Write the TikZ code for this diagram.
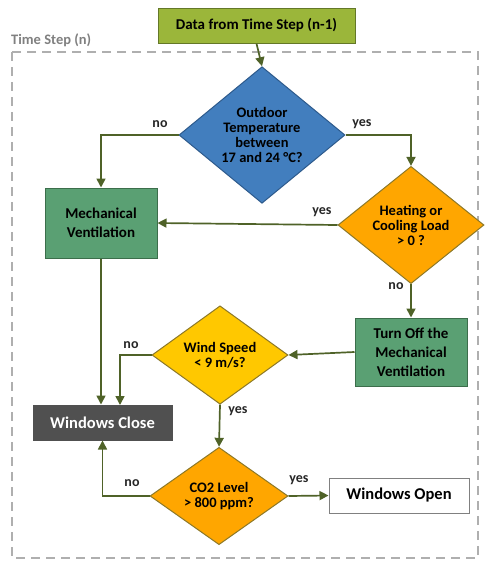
\documentclass[tikz,border=0pt]{standalone}
\usepackage{fontspec}
\setmainfont{Carlito}
\usetikzlibrary{shapes.geometric,arrows.meta}
\definecolor{olivebox}{RGB}{155,182,58}
\definecolor{olivebd}{RGB}{100,120,40}
\definecolor{bluedia}{RGB}{66,126,190}
\definecolor{bluebd}{RGB}{45,90,140}
\definecolor{greenbox}{RGB}{90,160,115}
\definecolor{greenbd}{RGB}{60,110,75}
\definecolor{orangedia}{RGB}{255,166,0}
\definecolor{golddia}{RGB}{255,200,0}
\definecolor{diabd}{RGB}{140,120,40}
\definecolor{darkbox}{RGB}{80,80,80}
\definecolor{arrowcol}{RGB}{79,98,40}
\definecolor{dashgray}{RGB}{175,175,175}
\begin{document}
\begin{tikzpicture}[x=1pt,y=-1pt,
  box/.style={rectangle, draw, line width=1pt, font=\bfseries\fontsize{15}{19}\selectfont, align=center, inner sep=0pt},
  dia/.style={diamond, draw=diabd, line width=1pt, font=\bfseries\fontsize{14.5}{15}\selectfont, align=center, inner sep=0pt},
  arr/.style={draw=arrowcol, line width=1.7pt, -{Triangle[length=9pt,width=9pt]}},
  lbl/.style={font=\bfseries\fontsize{14}{15}\selectfont, text=black!85}]
\useasboundingbox (0,0) rectangle (485,562);
% frame
\draw[dashgray, line width=2pt, dash pattern=on 9pt off 6pt] (12,52) rectangle (478,558);
\node[anchor=west, text=gray, font=\bfseries\fontsize{14.5}{16}\selectfont, inner sep=0pt] (ts) at (11,40) {Time Step (n)};
% nodes
\node[box, fill=olivebox, draw=olivebd, minimum width=197pt, minimum height=35pt] (data) at (256.5,25.5) {Data from Time Step (n-1)};
\node[dia, fill=bluedia, draw=bluebd, minimum width=166pt, minimum height=106pt] (d1) at (262,135) {Outdoor\\Temperature\\between\\17 and 24 °C?};
\node[box, fill=greenbox, draw=greenbd, minimum width=112pt, minimum height=70pt] (mv) at (101,223) {Mechanical\\Ventilation};
\node[dia, fill=orangedia, minimum width=146pt, minimum height=105pt] (d2) at (411,225) {Heating or\\Cooling Load\\> 0 ?};
\node[box, fill=greenbox, draw=greenbd, minimum width=112pt, minimum height=68pt] (to) at (411,352) {Turn Off the\\Mechanical\\Ventilation};
\node[dia, fill=golddia, minimum width=136pt, minimum height=92pt] (d3) at (220,355) {Wind Speed\\< 9 m/s?};
\node[box, fill=darkbox, draw=darkbox, text=white, font=\bfseries\fontsize{16.5}{19}\selectfont, minimum width=139pt, minimum height=35pt] (wc) at (102.5,422.5) {Windows Close};
\node[dia, fill=orangedia, minimum width=138pt, minimum height=96pt] (d4) at (219,496) {CO2 Level\\> 800 ppm?};
\node[box, fill=white, draw=gray, font=\bfseries\fontsize{16.5}{19}\selectfont, minimum width=140pt, minimum height=35pt] (wo) at (399,495.5) {Windows Open};
\coordinate (wcin) at (120,405);
% connectors
\draw[arr] (data.south) -- (d1.north);
\draw[arr] (d1.west) -| (mv.north);
\draw[arr] (d1.east) -| (d2.north);
\draw[arr] (d2.west) -- (mv.east);
\draw[arr] (d2.south) -- (to.north);
\draw[arr] (to.west) -- (d3.east);
\draw[arr] (d3.west) -| (wcin);
\draw[arr] (mv.south) -- (mv.south |- wc.north);
\draw[arr] (d3.south) -- (d4.north);
\draw[arr] (d4.west) -| (wc.south);
\draw[arr] (d4.east) -- (wo.west);
% labels
\node[lbl] (l1) at (160,124) {no};
\node[lbl] (l2) at (362,124) {yes};
\node[lbl] (l3) at (322,212) {yes};
\node[lbl] (l4) at (396,286) {no};
\node[lbl] (l5) at (131,345) {no};
\node[lbl] (l6) at (238,411) {yes};
\node[lbl] (l7) at (132,483) {no};
\node[lbl] (l8) at (299,480) {yes};
\end{tikzpicture}
\end{document}
